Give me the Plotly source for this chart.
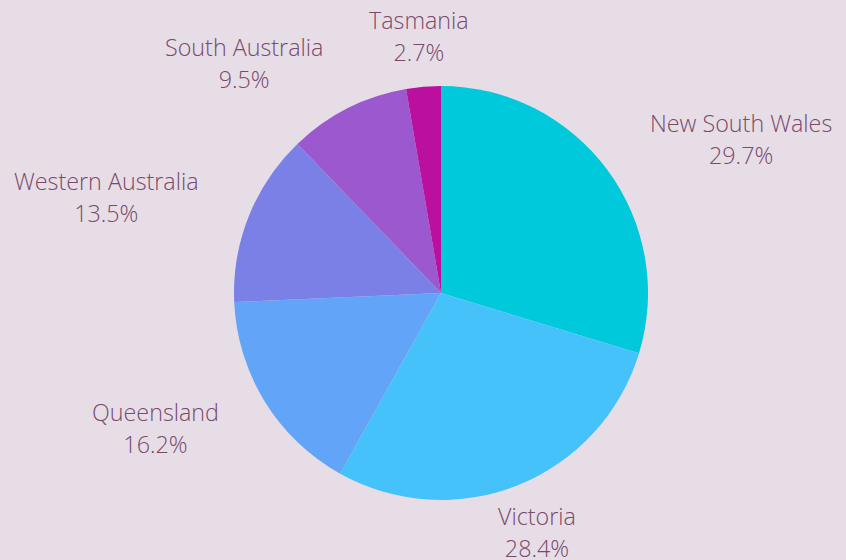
import math
import plotly.graph_objects as go

states = ["New South Wales", "Victoria", "Queensland", "Western Australia", "South Australia", "Tasmania"]
shares = [29.7, 28.4, 16.2, 13.5, 9.5, 2.7]
colors = ["#00c9dc", "#46c2fa", "#62a5f8", "#7b80e7", "#9b58cf", "#bb109f"]

W, H = 846, 560
cx, cy, R = 441, 293, 207
label_r = 258
font_family = "Open Sans"
txt_color = "#784a6b"
txt_size = 23.3
line_gap = 32

fig = go.Figure(go.Pie(
    labels=states, values=shares, sort=False, direction="clockwise", rotation=0,
    marker=dict(colors=colors, line=dict(width=0)),
    textinfo="none", hoverinfo="label+percent", showlegend=False,
    domain=dict(x=[(cx - R) / W, (cx + R) / W], y=[1 - (cy + R) / H, 1 - (cy - R) / H]),
))

total = sum(shares)
cum = 0
for name, v in zip(states, shares):
    mid = (cum + v / 2) / total * 2 * math.pi
    cum += v
    s, c = math.sin(mid), math.cos(mid)
    px = cx + label_r * s
    py = cy - label_r * c
    xa = "left" if s > 0.42 else ("right" if s < -0.42 else "center")
    span = f"<span style='font-size:{txt_size}px'>"
    fig.add_annotation(
        x=px / W, y=1 - py / H, xref="paper", yref="paper",
        text=f"{span}{name}</span><br>{span}{v}%</span>",
        showarrow=False, align="center",
        font=dict(family=font_family, size=line_gap / 1.3, color=txt_color, weight=300),
        xanchor=xa, yanchor="middle",
    )

fig.update_layout(
    width=W, height=H, margin=dict(l=0, r=0, t=0, b=0),
    paper_bgcolor="#e7dde6", plot_bgcolor="#e7dde6",
)
fig.write_html("out.html", config={"displayModeBar": False},
               post_script="document.body.style.margin='0';")
